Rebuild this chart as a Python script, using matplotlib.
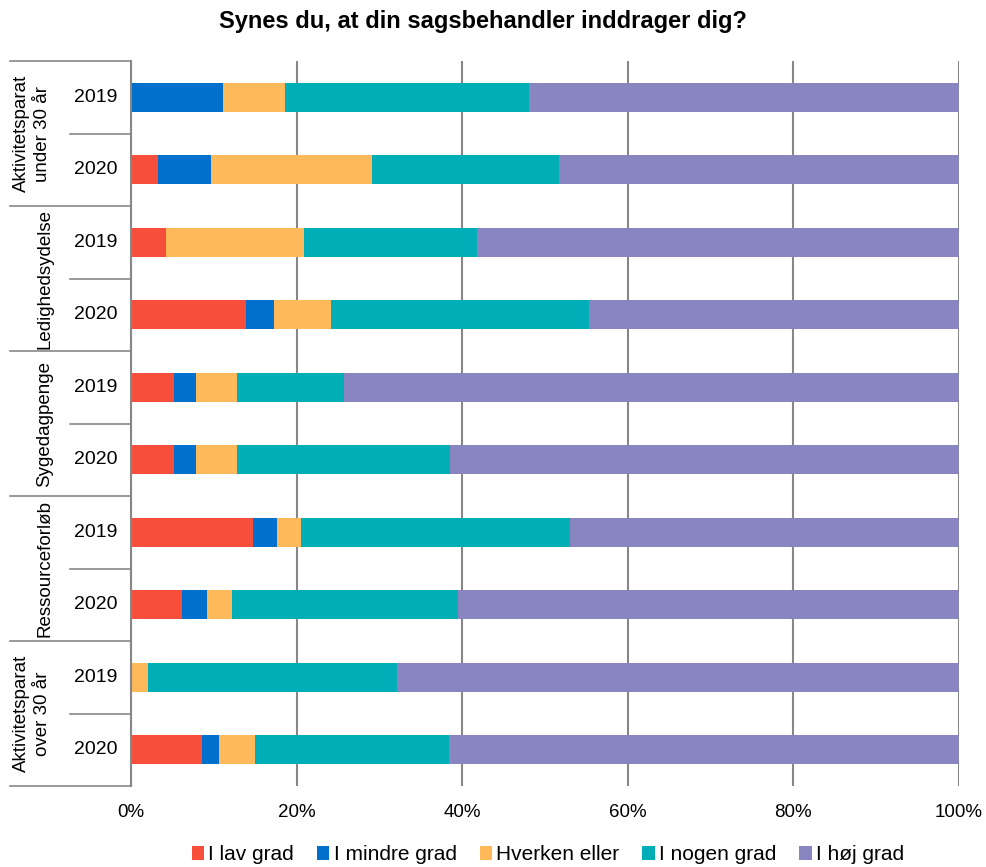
import matplotlib
matplotlib.use("Agg")
import matplotlib.pyplot as plt
from matplotlib.transforms import blended_transform_factory
import numpy as np

plt.rcParams["font.family"] = ["Liberation Sans", "DejaVu Sans"]

# data (andele i procent)
groups = ["Aktivitetsparat\nunder 30 år", "Ledighedsydelse", "Sygedagpenge",
          "Ressourceforløb", "Aktivitetsparat\nover 30 år"]
years = ["2019", "2020"]
series = ["I lav grad", "I mindre grad", "Hverken eller", "I nogen grad", "I høj grad"]
colors = ["#F84E3C", "#0070CD", "#FDB95A", "#00AEB8", "#8985C0"]

lav = [0.0, 3.3, 4.2, 13.9, 5.2, 5.2, 14.7, 6.2, 0.0, 8.6]
mindre = [11.1, 6.4, 0.0, 3.4, 2.7, 2.7, 2.9, 3.0, 0.0, 2.0]
hverken = [7.5, 19.4, 16.7, 6.9, 4.9, 4.9, 2.9, 3.0, 2.1, 4.4]
nogen = [29.5, 22.6, 20.9, 31.1, 12.9, 25.7, 32.5, 27.3, 30.0, 23.4]
hoej = [100 - a - b - c - d for a, b, c, d in zip(lav, mindre, hverken, nogen)]

values = [lav, mindre, hverken, nogen, hoej]

fig = plt.figure(figsize=(9.87, 8.67), dpi=100)
ax = fig.add_axes([0.1327, 0.0934, 0.8389, 0.8362])

n = len(lav)
ypos = np.arange(n)
left = np.zeros(n)
for vals, col, name in zip(values, colors, series):
    ax.barh(ypos, np.array(vals) / 100, left=left, height=0.4, color=col,
            label=name, zorder=3)
    left += np.array(vals) / 100

ax.set_xlim(0, 1)
ax.set_ylim(n - 0.5, -0.5)
ax.set_xticks(np.linspace(0, 1, 6))
ax.set_xticklabels([f"{int(v)}%" for v in np.linspace(0, 100, 6)], fontsize=13.5)
ax.tick_params(axis="x", length=0, pad=13)
ax.set_yticks([])
ax.grid(axis="x", color="#878787", lw=1.5, zorder=0)
for s in ["top", "right", "bottom"]:
    ax.spines[s].set_visible(False)
ax.spines["left"].set_color("#878787")
ax.spines["left"].set_linewidth(1.5)
ax.spines["left"].set_zorder(4)

tr = blended_transform_factory(ax.transAxes, ax.transData)
lc = "#878787"
# gruppe-linjer
for g in range(len(groups) + 1):
    y = g * 2 - 0.5
    ax.plot([-0.146, 0], [y, y], color=lc, lw=1.2, transform=tr, clip_on=False)
# år-linjer
for g in range(len(groups)):
    y = g * 2 + 0.5
    ax.plot([-0.0737, 0], [y, y], color=lc, lw=1.2, transform=tr, clip_on=False)

for i in range(n):
    ax.text(-0.043, i, years[i % 2], transform=tr, ha="center", va="center", fontsize=14)

for g, name in enumerate(groups):
    xg = -0.12 if "\n" in name else -0.104
    ax.text(xg, g * 2 + 0.5, name, transform=tr, ha="center", va="center",
            rotation=90, fontsize=13.5, linespacing=1.3, multialignment="center")

fig.text(0.489, 0.975, "Synes du, at din sagsbehandler inddrager dig?", ha="center",
         va="center", fontsize=17, fontweight="bold")

fig.legend(loc="center", bbox_to_anchor=(0.555, 0.014), ncol=5, frameon=False,
           fontsize=15, handlelength=0.6, handleheight=0.6, handletextpad=0.2,
           columnspacing=1.1)

fig.savefig("out.png", dpi=100)
